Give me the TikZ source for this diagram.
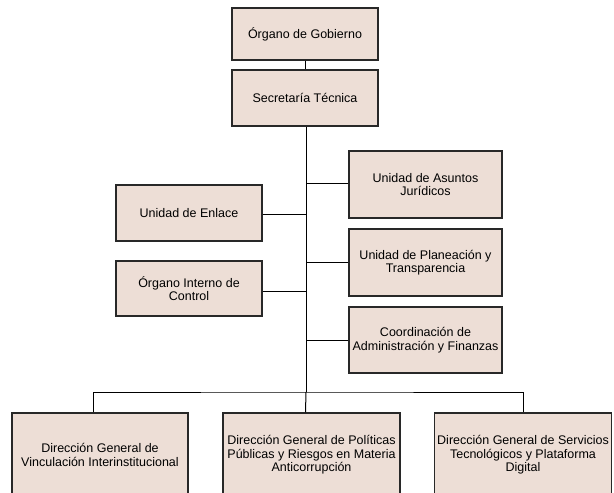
\documentclass[tikz,border=0pt]{standalone}
\usepackage{fontspec}
\setmainfont{Liberation Sans}
\usepackage{tikz}
\usetikzlibrary{calc}
\definecolor{boxfill}{RGB}{237,222,214}
\definecolor{boxline}{RGB}{40,40,40}
\tikzset{unitbox/.style={draw=boxline, fill=boxfill, line width=1.2pt, inner sep=0pt, align=center, font=\fontsize{12.5}{13.4}\selectfont}}
\tikzset{link/.style={draw=black, line width=1pt}}

\begin{document}
\begin{tikzpicture}[x=1pt,y=-1pt]
\useasboundingbox (0,0) rectangle (614,493);
\clip (0,0) rectangle (614,493);

% top of the chart
\node[unitbox, minimum width=146pt, minimum height=52pt] (gob) at (305,34) {Órgano de Gobierno};
\node[unitbox, minimum width=146pt, minimum height=56pt] (sec) at (305,98) {Secretaría Técnica};

% units on the right
\node[unitbox, minimum width=153pt, minimum height=67pt] (jur) at (425.5,184.5) {Unidad de Asuntos\\Jurídicos};
\node[unitbox, minimum width=153pt, minimum height=67pt] (pla) at (425.5,262.5) {Unidad de Planeación y\\Transparencia};
\node[unitbox, minimum width=153pt, minimum height=66pt] (coo) at (425.5,340) {Coordinación de\\Administración y Finanzas};

% units on the left
\node[unitbox, minimum width=146pt, minimum height=56pt] (enl) at (189,213) {Unidad de Enlace};
\node[unitbox, minimum width=146pt, minimum height=55pt] (oic) at (189,288.5) {Órgano Interno de\\Control};

% general directions
\node[unitbox, minimum width=176pt, minimum height=84pt] (dgv) at (100,455) {Dirección General de\\Vinculación Interinstitucional};
\node[unitbox, minimum width=177pt, minimum height=84pt] (dgp) at (311.5,455) {Dirección General de Políticas\\Públicas y Riesgos en Materia\\Anticorrupción};
\node[unitbox, minimum width=177pt, minimum height=84pt] (dgs) at (523,455) {Dirección General de Servicios\\Tecnológicos y Plataforma\\Digital};

\coordinate (bus) at (306,392);

\draw[link] (gob) -- (sec);
\draw[link] (sec.south -| bus) -- (bus);
\draw[link] (jur.west |- 0,183) -- (306,183);
\draw[link] (pla.west |- 0,262) -- (306,262);
\draw[link] (coo.west) -- (coo.west -| bus);
\draw[link] (enl.east |- 0,214) -- (306,214);
\draw[link] (oic.east |- 0,291) -- (306,291);
\draw[link] ([xshift=-7pt]dgv.north) |- (bus) -| (dgs.north);
\draw[link] ([xshift=-6pt]dgp.north) -- (bus);

\end{tikzpicture}
\end{document}
